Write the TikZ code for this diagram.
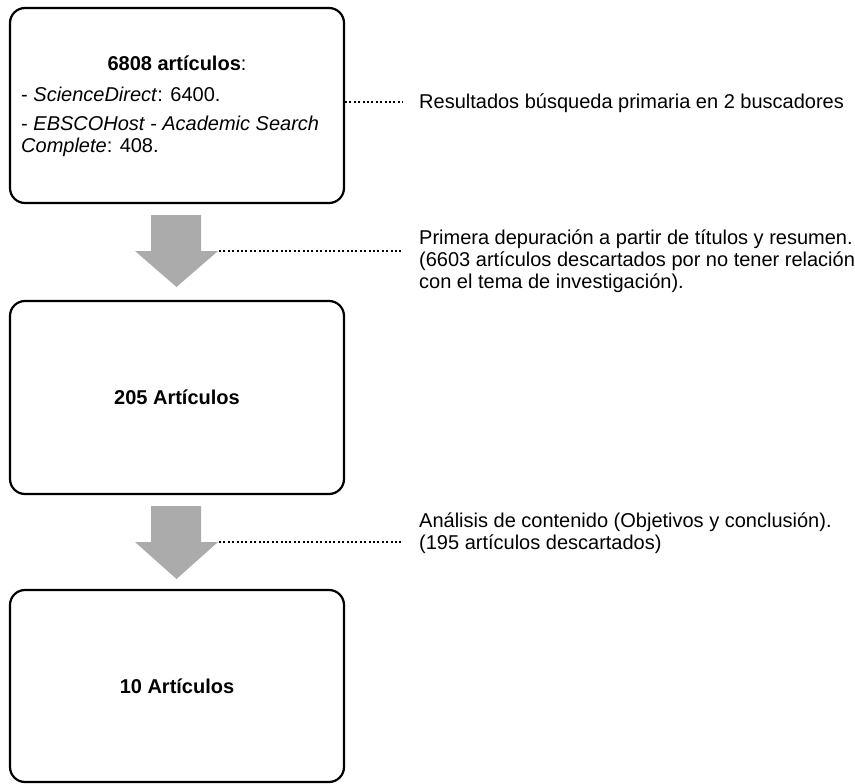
\documentclass[tikz,border=0pt]{standalone}
\usepackage{fontspec}
\setmainfont{Liberation Sans}
\definecolor{arrowgray}{RGB}{171,171,171}
\begin{document}
\begin{tikzpicture}[x=1pt,y=-1pt,
  stage/.style={draw=black, line width=2.2pt, rounded corners=15pt,
    minimum width=334pt, inner sep=0pt,
    font=\fontsize{20}{23}\selectfont\bfseries},
  txt/.style={inner sep=0pt, anchor=base west, font=\fontsize{20}{22}\selectfont},
  headline/.style={inner sep=0pt, anchor=base, font=\fontsize{20}{22}\selectfont},
  leader/.style={line width=2pt, dash pattern=on 2pt off 2.4pt},
  flow/.style={fill=arrowgray}]
\useasboundingbox (0,0) rectangle (855,784);

% stage boxes
\node[stage, minimum height=195pt] (b1) at (177,105.5) {};
\node[stage, minimum height=193pt] (b2) at (177,397.5) {205 Artículos};
\node[stage, minimum height=192pt] (b3) at (177,686) {10 Artículos};

% contents of the first box
\node[headline] (h1) at (177,71) {\textbf{6808 artículos}:};
\node[txt] (l1) at (21,102) {- \textit{ScienceDirect}: 6400.};
\node[txt] (l2) at (21,130) {- \textit{EBSCOHost - Academic Search}};
\node[txt] (l3) at (21,152) {\textit{Complete}: 408.};

% block arrows between the stages
\fill[flow] (151,215) -- (201,215) -- (201,251) -- (218,251) -- (176.5,287)
  -- (135,251) -- (151,251) -- cycle;
\coordinate (a1r) at (219,251);
\fill[flow] (151,506) -- (201,506) -- (201,542) -- (218,542) -- (176.5,579)
  -- (135,542) -- (151,542) -- cycle;
\coordinate (a2r) at (219,542);

% side notes
\node[txt] (r1) at (419,109) {Resultados búsqueda primaria en 2 buscadores};
\node[txt] (p1a) at (419,244) {Primera depuración a partir de títulos y resumen.};
\node[txt] (p1b) at (419,266) {(6603 artículos descartados por no tener relación};
\node[txt] (p1c) at (419,288) {con el tema de investigación).};
\node[txt] (p2a) at (419,527) {Análisis de contenido (Objetivos y conclusión).};
\node[txt] (p2b) at (419,549) {(195 artículos descartados)};

% dotted leaders
\coordinate (j1) at (345,102);
\draw[leader, shorten >=16pt] (j1) -- (j1 -| r1.west);
\draw[leader, shorten >=16pt] (a1r) -- (a1r -| p1a.west);
\draw[leader, shorten >=16pt] (a2r) -- (a2r -| p2a.west);
\end{tikzpicture}
\end{document}
